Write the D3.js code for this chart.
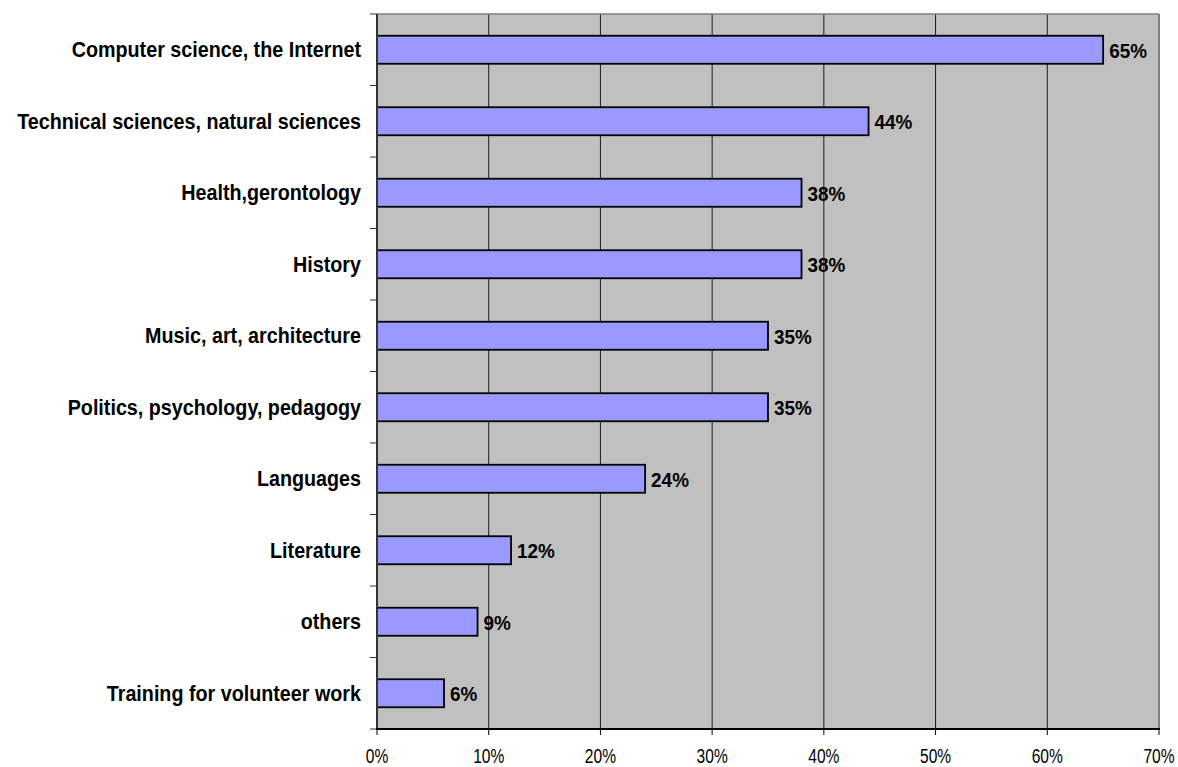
<!DOCTYPE html>
<html>
<head>
<meta charset="utf-8">
<script src="https://cdn.jsdelivr.net/npm/d3@7"></script>
<style>
  html, body { margin: 0; padding: 0; background: #ffffff; }
  svg { display: block; font-family: "Liberation Sans", Arial, sans-serif; }
</style>
</head>
<body>
<svg id="chart" width="1178" height="767"></svg>
<script>
// Interest areas and share of respondents (%)
const categories = [
  "Computer science, the Internet",
  "Technical sciences, natural sciences",
  "Health,gerontology",
  "History",
  "Music, art, architecture",
  "Politics, psychology, pedagogy",
  "Languages",
  "Literature",
  "others",
  "Training for volunteer work"
];
const values = [65, 44, 38, 38, 35, 35, 24, 12, 9, 6];
const xTicks = [0, 10, 20, 30, 40, 50, 60, 70];

const svg = d3.select("#chart");
const plot = { left: 377, right: 1159, top: 14, bottom: 729 };

const x = d3.scaleLinear().domain([0, 70]).range([plot.left, plot.right]);
const y = d3.scaleBand().domain(categories).range([plot.top, plot.bottom])
  .paddingInner(0.608).paddingOuter(0.304);
// band boundaries for the category tick marks
const slot = d3.scaleLinear().domain([0, categories.length]).range([plot.top, plot.bottom]);

// plot area background
svg.append("rect")
  .attr("x", plot.left).attr("y", plot.top)
  .attr("width", plot.right - plot.left).attr("height", plot.bottom - plot.top)
  .attr("fill", "#c0c0c0");

// vertical gridlines
svg.append("g").selectAll("line")
  .data(xTicks.filter(d => d > 0 && d < 70))
  .join("line")
  .attr("x1", d => x(d)).attr("x2", d => x(d))
  .attr("y1", plot.top).attr("y2", plot.bottom)
  .attr("stroke", "#1a1a1a").attr("stroke-width", 1);

// top and right frame
svg.append("line")
  .attr("x1", plot.left).attr("x2", plot.right)
  .attr("y1", plot.top).attr("y2", plot.top)
  .attr("stroke", "#808080").attr("stroke-width", 1.5);
svg.append("line")
  .attr("x1", plot.right).attr("x2", plot.right)
  .attr("y1", plot.top).attr("y2", plot.bottom)
  .attr("stroke", "#808080").attr("stroke-width", 2);

// bars
svg.append("g").selectAll("rect")
  .data(categories)
  .join("rect")
  .attr("x", x(0))
  .attr("y", d => y(d))
  .attr("width", (d, i) => x(values[i]) - x(0))
  .attr("height", y.bandwidth())
  .attr("fill", "#9999ff")
  .attr("stroke", "#000000")
  .attr("stroke-width", 1.8);

// value labels
svg.append("g").selectAll("text")
  .data(categories)
  .join("text")
  .attr("transform", (d, i) => `translate(${x(values[i]) + 6},${y(d) + y.bandwidth() / 2 + 8}) scale(0.9,1)`)
  .attr("font-size", 21)
  .attr("font-weight", "bold")
  .attr("fill", "#000")
  .text((d, i) => values[i] + "%");

// category axis line and ticks
svg.append("line")
  .attr("x1", plot.left).attr("x2", plot.left)
  .attr("y1", plot.top).attr("y2", plot.bottom)
  .attr("stroke", "#333333").attr("stroke-width", 2);
svg.append("g").selectAll("line")
  .data(d3.range(categories.length + 1))
  .join("line")
  .attr("x1", plot.left - 7).attr("x2", plot.left)
  .attr("y1", d => slot(d)).attr("y2", d => slot(d))
  .attr("stroke", "#333333").attr("stroke-width", 1);

// category labels
svg.append("g").selectAll("text")
  .data(categories)
  .join("text")
  .attr("transform", d => `translate(${plot.left - 16},${y(d) + y.bandwidth() / 2 + 7.5}) scale(0.94,1.03)`)
  .attr("text-anchor", "end")
  .attr("font-size", 21)
  .attr("font-weight", "bold")
  .attr("fill", "#000")
  .text(d => d);

// value axis line, ticks and labels
svg.append("line")
  .attr("x1", plot.left - 1).attr("x2", plot.right + 1)
  .attr("y1", plot.bottom).attr("y2", plot.bottom)
  .attr("stroke", "#000000").attr("stroke-width", 2);
svg.append("g").selectAll("line")
  .data(xTicks)
  .join("line")
  .attr("x1", d => x(d)).attr("x2", d => x(d))
  .attr("y1", plot.bottom).attr("y2", plot.bottom + 6)
  .attr("stroke", "#000000").attr("stroke-width", 1);
svg.append("g").selectAll("text")
  .data(xTicks)
  .join("text")
  .attr("transform", d => `translate(${x(d)},762.5) scale(0.82,1.05)`)
  .attr("text-anchor", "middle")
  .attr("font-size", 19)
  .attr("fill", "#000")
  .text(d => d + "%");
</script>
</body>
</html>
